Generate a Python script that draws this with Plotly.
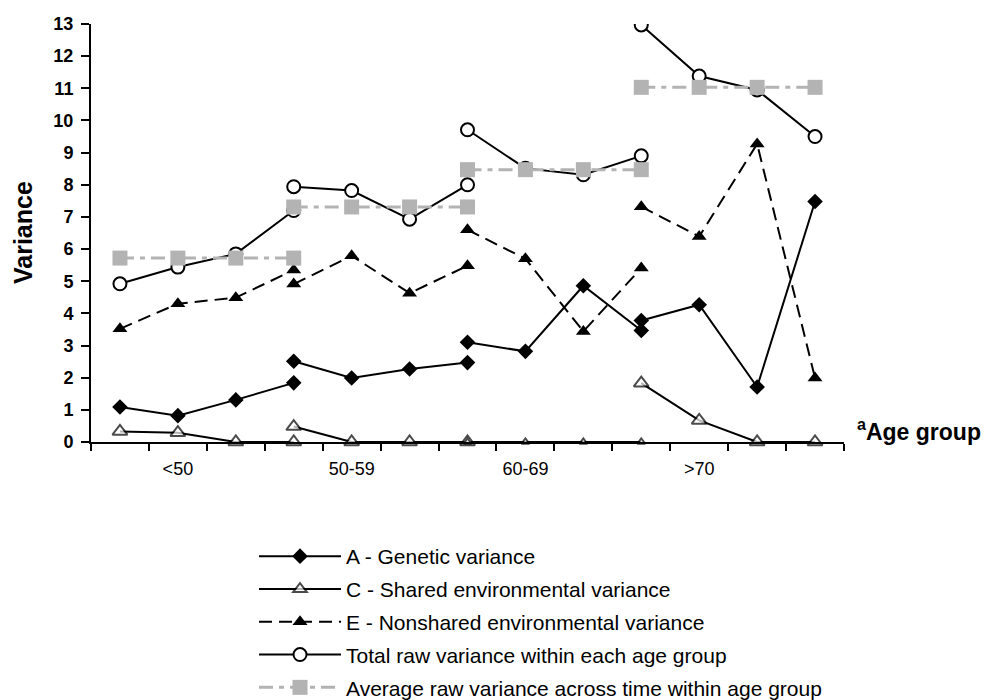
import plotly.graph_objects as go

# ---- data ----
group_labels = ["<50", "50-59", "60-69", ">70"]
group_positions = [[1, 2, 3, 4], [4, 5, 6, 7], [7, 8, 9, 10], [10, 11, 12, 13]]

genetic_A = [[1.09, 0.82, 1.31, 1.84], [2.51, 1.99, 2.27, 2.47],
             [3.10, 2.82, 4.86, 3.47], [3.78, 4.27, 1.71, 7.48]]
shared_C = [[0.33, 0.29, 0.0, 0.0], [0.48, 0.0, 0.0, 0.0],
            [0.0, 0.0, 0.0, 0.0], [1.83, 0.67, 0.0, 0.0]]
nonshared_E = [[3.52, 4.30, 4.49, 5.35], [4.91, 5.79, 4.63, 5.48],
               [6.60, 5.70, 3.44, 5.41], [7.32, 6.39, 9.27, 1.99]]
total_raw = [[4.92, 5.44, 5.85, 7.20], [7.94, 7.82, 6.93, 8.00],
             [9.71, 8.51, 8.31, 8.90], [12.97, 11.38, 10.95, 9.50]]
average_raw = [5.72, 7.31, 8.47, 11.03]

y_ticks = list(range(0, 14))


def flatten(groups):
    xs, ys = [], []
    for pos, vals in zip(group_positions, groups):
        xs += pos + [None]
        ys += list(vals) + [None]
    return xs, ys


fig = go.Figure()

FONT = "Liberation Sans, Arial, sans-serif"

xa, ya = flatten(genetic_A)
fig.add_trace(go.Scatter(x=xa, y=ya, mode="lines+markers", name="A - Genetic variance",
                         legendgroup="a",
                         line=dict(color="black", width=2),
                         marker=dict(symbol="diamond", size=12, color="black")))

xc, yc = flatten(shared_C)
c_sizes = []
for gi, pos in enumerate(group_positions):
    c_sizes += [7 if gi == 2 else 13] * len(pos) + [13]
fig.add_trace(go.Scatter(x=xc, y=yc, mode="lines+markers", name="C - Shared environmental variance",
                         legendgroup="c", cliponaxis=False,
                         line=dict(color="black", width=2),
                         marker=dict(symbol="triangle-up", size=c_sizes, color="white",
                                     line=dict(color="black", width=2))))

xe, ye = flatten(nonshared_E)
fig.add_trace(go.Scatter(x=xe, y=ye, mode="lines+markers", name="E - Nonshared environmental variance",
                         legendgroup="e",
                         line=dict(color="black", width=2, dash="13px,7px"),
                         marker=dict(symbol="triangle-up", size=13, color="black")))

xt, yt = flatten(total_raw)
fig.add_trace(go.Scatter(x=xt, y=yt, mode="lines+markers", name="Total raw variance within each age group",
                         legendgroup="t",
                         line=dict(color="black", width=2),
                         marker=dict(symbol="circle", size=13, color="white",
                                     line=dict(color="black", width=2))))

xg, yg = flatten([[v] * 4 for v in average_raw])
fig.add_trace(go.Scatter(x=xg, y=yg, mode="lines+markers",
                         name="Average raw variance across time within age group",
                         legendgroup="g",
                         line=dict(color="#b3b3b3", width=3, dash="14px,6px,5px,6px"),
                         marker=dict(symbol="square", size=15, color="#b3b3b3")))

# helper trace so the category-label axis is drawn
fig.add_trace(go.Scatter(x=[None], y=[None], xaxis="x2", showlegend=False, hoverinfo="skip"))

n_cat = group_positions[-1][-1]
boundaries = [i + 0.5 for i in range(0, n_cat + 1)]
label_pos = [p[1] for p in group_positions]

# the page body adds an 8px offset; margins compensate so the plot lands at (91, 24)
fig.update_layout(
    width=994, height=700,
    margin=dict(l=83, r=158, t=16, b=266, autoexpand=False),
    plot_bgcolor="white", paper_bgcolor="white",
    font=dict(family=FONT, color="black"),
    xaxis=dict(range=[0.5, n_cat + 0.5], tickvals=boundaries, showticklabels=False,
               ticks="outside", ticklen=7, tickwidth=2, tickcolor="black",
               showline=True, linecolor="black", linewidth=2, showgrid=False, zeroline=False),
    xaxis2=dict(range=[0.5, n_cat + 0.5], overlaying="x", anchor="y", side="bottom",
                tickvals=label_pos, ticktext=group_labels, ticks="", showline=False,
                showgrid=False, zeroline=False, tickfont=dict(size=18, family=FONT),
                ticklabelstandoff=14),
    yaxis=dict(range=[0, 13], tickvals=y_ticks, ticks="outside", ticklen=8, tickwidth=2,
               tickcolor="black", showline=True, linecolor="black", linewidth=2,
               showgrid=False, zeroline=False, ticklabelstandoff=4,
               tickfont=dict(size=18, family=FONT, weight="bold")),
    legend=dict(xref="container", yref="container", x=0.2475, xanchor="left",
                y=1 - 528 / 700, yanchor="top", orientation="v",
                font=dict(size=21, family=FONT), itemwidth=82, tracegroupgap=2.5,
                bgcolor="rgba(0,0,0,0)"),
    showlegend=True,
    annotations=[
        dict(text="<b><sup>a</sup>Age group</b>", xref="paper", yref="y",
             x=1.0146, y=0.37, xanchor="left", yanchor="middle", showarrow=False,
             font=dict(size=23, family=FONT)),
        dict(text="<b>Variance</b>", xref="paper", yref="paper", x=-0.0903, y=0.5,
             xanchor="center", yanchor="middle", textangle=-90, showarrow=False,
             font=dict(size=25, family=FONT)),
    ],
)

fig.write_html("out.html")
